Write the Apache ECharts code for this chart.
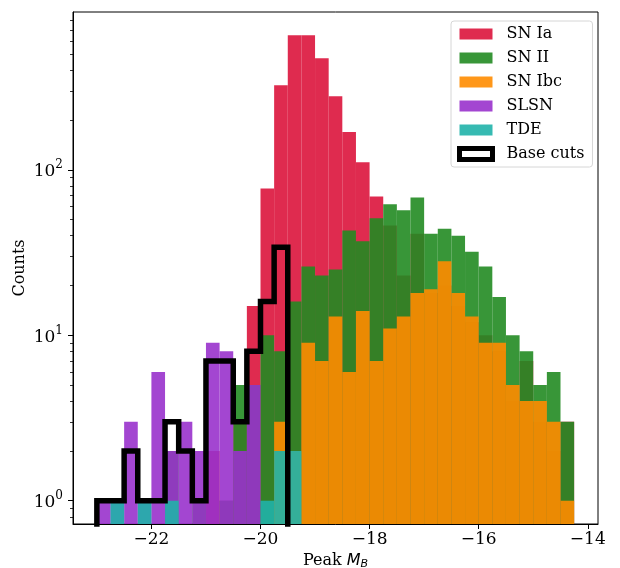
<!DOCTYPE html>
<html>
<head>
<meta charset="utf-8">
<script src="https://cdn.jsdelivr.net/npm/echarts@6/dist/echarts.min.js"></script>
<style>
  html, body { margin: 0; padding: 0; background: #fff; }
  #chart { width: 620px; height: 568px; }
</style>
</head>
<body>
<div id="chart"></div>
<script>
// bin edges (mag), 0.25 wide
const binEdges = [-23.0, -22.75, -22.5, -22.25, -22.0, -21.75, -21.5, -21.25, -21.0, -20.75,
  -20.5, -20.25, -20.0, -19.75, -19.5, -19.25, -19.0, -18.75, -18.5, -18.25,
  -18.0, -17.75, -17.5, -17.25, -17.0, -16.75, -16.5, -16.25, -16.0, -15.75,
  -15.5, -15.25, -15.0, -14.75, -14.5, -14.25]
// counts per bin
const snIa = [0, 0, 0, 0, 0, 0, 0, 0, 2, 1, 3, 15, 77, 324, 650, 650, 472, 278, 169, 111, 69, 46, 23, 41, 18, 20, 15, 12, 10, 8, 4, 7, 3, 2, 3]
const snII = [0, 0, 0, 0, 0, 2, 0, 1, 0, 1, 5, 5, 10, 8, 16, 26, 23, 25, 43, 37, 51, 62, 57, 68, 41, 44, 40, 32, 26, 17, 10, 8, 5, 6, 3]
const snIbc = [0, 0, 0, 0, 0, 0, 0, 0, 0, 0, 0, 0, 0, 3, 2, 9, 7, 13, 6, 14, 7, 11, 13, 18, 19, 28, 18, 13, 9, 9, 5, 4, 4, 3, 1]
const slsn = [1, 1, 3, 1, 6, 2, 3, 2, 9, 8, 2, 5, 0, 0, 0, 0, 0, 0, 0, 0, 0, 0, 0, 0, 0, 0, 0, 0, 0, 0, 0, 0, 0, 0, 0]
const tde = [0, 1, 0, 1, 0, 1, 0, 0, 0, 0, 0, 0, 1, 2, 2, 0, 0, 0, 0, 0, 0, 0, 0, 0, 0, 0, 0, 0, 0, 0, 0, 0, 0, 0, 0]
const baseCuts = [1, 1, 2, 1, 1, 3, 2, 1, 7, 7, 3, 8, 16, 34]

const xTicks = [-22, -20, -18, -16, -14]
const yMajor = [1, 10, 100]
const yMinor = [0.8, 0.9, 2, 3, 4, 5, 6, 7, 8, 9, 20, 30, 40, 50, 60, 70, 80, 90, 200, 300, 400, 500, 600, 700, 800]

const yMin = 0.7233
const yMax = 898.7
const serif = 'DejaVu Serif'

const chart = echarts.init(document.getElementById('chart'))

function histSeries(name, counts, color) {
  const data = []
  counts.forEach((c, i) => {
    if (c > 0) data.push([binEdges[i], binEdges[i + 1], c])
  })
  return {
    name,
    type: 'custom',
    xAxisIndex: 0,
    yAxisIndex: 0,
    itemStyle: { color },
    encode: { x: [0, 1], y: 2 },
    data,
    renderItem: (params, api) => {
      const p0 = api.coord([api.value(0), api.value(2)])
      const p1 = api.coord([api.value(1), yMin])
      return {
        type: 'rect',
        shape: { x: p0[0], y: p0[1], width: p1[0] - p0[0], height: p1[1] - p0[1] },
        style: { fill: color },
      }
    },
  }
}

// step outline for base cuts
const stepData = [[binEdges[0], 0.1]]
baseCuts.forEach((c, i) => stepData.push([binEdges[i], c]))
stepData.push([binEdges[baseCuts.length], baseCuts[baseCuts.length - 1]])
stepData.push([binEdges[baseCuts.length], 0.1])

const tickText = { fontFamily: serif, fontSize: 17, color: '#000' }

chart.setOption({
  animation: false,
  grid: {
    left: 73, top: 12, width: 525, height: 512,
    outerBoundsMode: 'none', containLabel: false,
    show: true, borderColor: '#000', borderWidth: 1,
  },
  legend: {
    orient: 'vertical',
    left: 451,
    top: 21,
    padding: [5, 8, 5, 6],
    itemWidth: 33,
    itemHeight: 11,
    itemGap: 8,
    selectedMode: false,
    borderColor: '#d6d6d6',
    borderWidth: 1,
    borderRadius: 3,
    backgroundColor: 'rgba(255,255,255,0.8)',
    textStyle: { fontFamily: serif, fontSize: 16, color: '#000', lineHeight: 16, padding: [0, 0, 0, 9] },
    data: [
      { name: 'SN Ia', icon: 'rect' },
      { name: 'SN II', icon: 'rect' },
      { name: 'SN Ibc', icon: 'rect' },
      { name: 'SLSN', icon: 'rect' },
      { name: 'TDE', icon: 'rect' },
      { name: 'Base cuts', icon: 'rect', itemStyle: { color: '#fff', borderColor: '#000', borderWidth: 5 } },
    ],
  },
  xAxis: [{
    type: 'value',
    min: -23.4375,
    max: -13.8125,
    axisLine: { show: true, onZero: false, lineStyle: { color: '#000', width: 1 } },
    axisTick: { show: true, length: 5, customValues: xTicks, lineStyle: { color: '#000', width: 1 } },
    axisLabel: {
      ...tickText,
      margin: 7,
      customValues: xTicks,
      formatter: (v) => String(v).replace('-', '\u2212'),
    },
    splitLine: { show: false },
    name: '{r|Peak }{i|M}{s|B}',
    nameLocation: 'middle',
    nameGap: 26,
    nameTextStyle: {
      rich: {
        r: { fontFamily: serif, fontSize: 16, color: '#000' },
        i: { fontFamily: 'DejaVu Sans', fontStyle: 'italic', fontSize: 16, color: '#000' },
        s: { fontFamily: 'DejaVu Sans', fontStyle: 'italic', fontSize: 11, color: '#000', padding: [7, 0, 0, 0] },
      },
    },
  }],
  yAxis: [{
    type: 'log',
    logBase: 10,
    min: yMin,
    max: yMax,
    axisLine: { show: true, lineStyle: { color: '#000', width: 1 } },
    axisTick: { show: true, length: 5, customValues: yMajor, lineStyle: { color: '#000', width: 1 } },
    axisLabel: {
      margin: 10,
      customValues: yMajor,
      formatter: (v) => '{b|10}{s|' + Math.round(Math.log10(v)) + '}',
      rich: {
        b: { ...tickText, padding: [4, 0, 0, 0] },
        s: { fontFamily: serif, fontSize: 12, color: '#000', padding: [0, 0, 9, 0] },
      },
    },
    splitLine: { show: false },
    minorTick: { show: false },
    name: 'Counts',
    nameLocation: 'middle',
    nameGap: 45,
    nameMoveOverlap: false,
    nameTextStyle: { fontFamily: serif, fontSize: 16, color: '#000' },
  }, {
    type: 'log',
    logBase: 10,
    min: yMin,
    max: yMax,
    position: 'left',
    axisLine: { show: false },
    axisTick: { show: true, length: 3, customValues: yMinor, lineStyle: { color: '#000', width: 0.8 } },
    axisLabel: { show: false },
    splitLine: { show: false },
  }],
  series: [
    histSeries('SN Ia', snIa, 'rgba(220,20,60,0.9)'),
    histSeries('SN II', snII, 'rgba(34,139,34,0.9)'),
    histSeries('SN Ibc', snIbc, 'rgba(255,140,0,0.9)'),
    histSeries('SLSN', slsn, 'rgba(153,50,204,0.9)'),
    histSeries('TDE', tde, 'rgba(32,178,170,0.9)'),
    {
      name: 'Base cuts',
      type: 'line',
      step: 'end',
      showSymbol: false,
      symbol: 'none',
      z: 10,
      data: stepData,
      lineStyle: { color: '#000', width: 5.5, join: 'miter', cap: 'butt' },
      itemStyle: { color: '#fff', borderColor: '#000', borderWidth: 5 },
    },
  ],
})
</script>
</body>
</html>
